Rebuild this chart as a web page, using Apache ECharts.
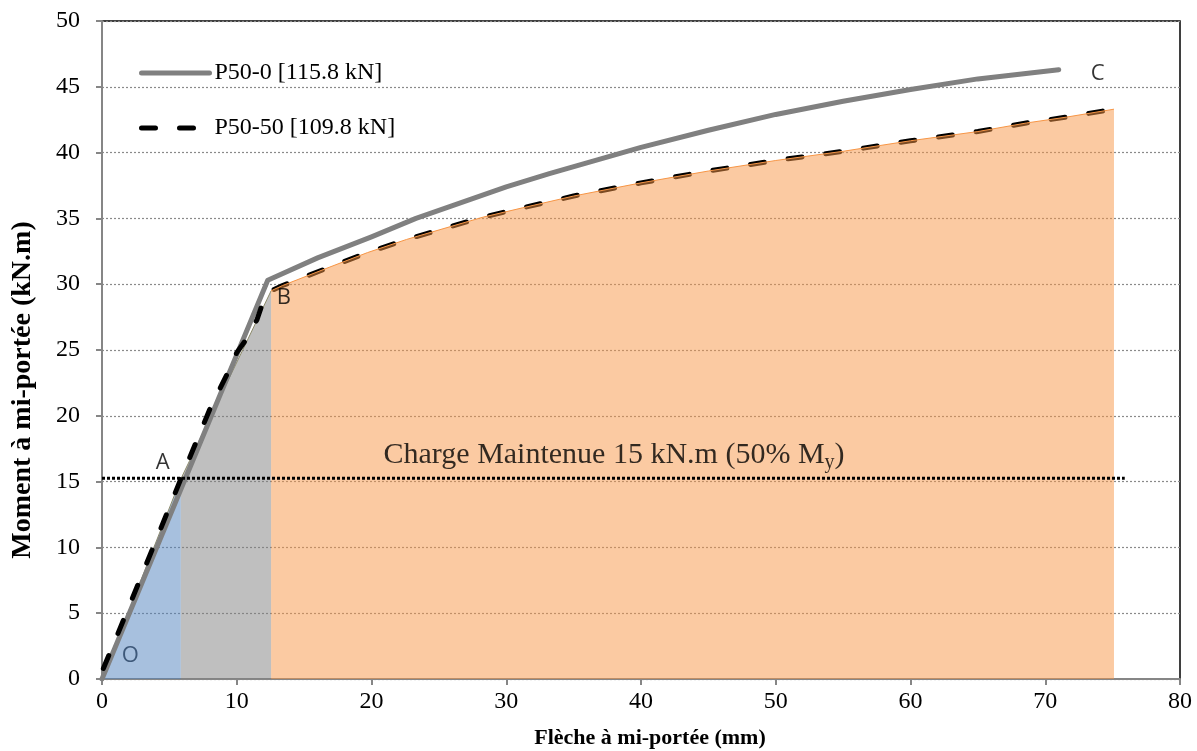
<!DOCTYPE html>
<html><head><meta charset="utf-8">
<script src="https://cdn.jsdelivr.net/npm/echarts@6/dist/echarts.min.js"></script>
<style>html,body{margin:0;padding:0;background:#fff}#c{width:1197px;height:751px}</style>
</head><body><div id="c"></div>
<script>
// Data (x: deflection mm, y: moment kN.m)
const p50_0 = [[0,0],[12.3,30.3],[16,32.0],[20,33.6],[23.3,35.0],[30,37.4],[33.2,38.4],[40,40.4],[45,41.7],[50,42.9],[55,43.9],[60,44.8],[65,45.6],[71,46.3]];
const p50_50 = [[0.1,0.8],[1,3.0],[3,8.0],[5.85,15.2],[8,20.5],[9.3,23.2],[10,24.8],[10.7,25.8],[11.5,27.3],[12.1,29.1],[12.55,29.5],[13.4,29.9],[16.9,31.3],[19.7,32.4],[22.6,33.4],[25.6,34.3],[28.3,35.1],[31.2,35.8],[35,36.7],[40,37.7],[45,38.6],[50,39.4],[55,40.1],[60,40.9],[65,41.6],[68.6,42.25],[71.6,42.7],[75.1,43.3]];
const zoneOA = [[0,0],[5.85,15.2]];
const zoneAB = [[5.85,15.2],[12.55,29.5]];
const zoneBC = p50_50.filter(p => p[0] >= 12.55);
const sustained = [[0,15.25],[75.9,15.25]];
const pointLabels = [[2.1,1.8,'O'],[4.5,16.4,'A'],[13.5,29.0,'B'],[73.9,46.0,'C']];
const noteText = [[38.0,17.0]];
const names = ['P50-0 [115.8 kN]','P50-50 [109.8 kN]'];
const xTitle = 'Flèche à mi-portée (mm)';
const yTitle = 'Moment à mi-portée (kN.m)';

const serif = 'Liberation Serif';
const chart = echarts.init(document.getElementById('c'), null, {renderer:'canvas'});
chart.setOption({
  animation:false,
  backgroundColor:'#fff',
  grid:{left:102,right:17,top:21,bottom:72,show:true,borderColor:'#000',borderWidth:1.5,backgroundColor:'transparent'},
  legend:{
    data:names, orient:'vertical', left:134, top:56, itemWidth:68, itemHeight:14, itemGap:31,
    itemStyle:{opacity:0}, lineStyle:{width:5},
    textStyle:{fontFamily:serif,fontSize:24,color:'#000'}
  },
  graphic:[
    {type:'text',x:650,y:738,silent:true,style:{text:xTitle,align:'center',verticalAlign:'middle',
      fontFamily:serif,fontSize:22,fontWeight:'bold',fill:'#000'}},
    {type:'text',x:23,y:390,rotation:Math.PI/2,silent:true,style:{text:yTitle,align:'center',verticalAlign:'middle',
      fontFamily:serif,fontSize:28,fontWeight:'bold',fill:'#000'}}
  ],
  xAxis:{type:'value',min:0,max:80,interval:10,
    axisLine:{lineStyle:{color:'#868686',width:2}},
    axisTick:{show:true,length:6,lineStyle:{color:'#868686',width:2}},
    axisLabel:{fontFamily:serif,fontSize:24,color:'#000',margin:11},
    splitLine:{show:false}},
  yAxis:{type:'value',min:0,max:50,interval:5,
    axisLine:{show:true,lineStyle:{color:'#868686',width:2}},
    axisTick:{show:true,length:6,lineStyle:{color:'#868686',width:2}},
    axisLabel:{fontFamily:serif,fontSize:24,color:'#000',margin:22},
    splitLine:{show:true,lineStyle:{color:'#8a8a8a',width:1.2,type:[2,2]}}},
  series:[
    {type:'line',data:zoneOA,symbol:'none',z:1,silent:true,
     lineStyle:{color:'#8c8a6a',width:1},areaStyle:{color:'rgba(79,129,189,0.5)',opacity:1}},
    {type:'line',data:zoneAB,symbol:'none',z:1,silent:true,
     lineStyle:{color:'#8c8a6a',width:1},areaStyle:{color:'rgba(128,128,128,0.5)',opacity:1}},
    {name:names[0],type:'line',data:p50_0,symbol:'none',z:3,
     lineStyle:{color:'#808080',width:5,cap:'round',join:'round'},itemStyle:{color:'#808080'}},
    {name:names[1],type:'line',data:p50_50,symbol:'none',z:3,
     lineStyle:{color:'#000',width:5,type:[14,24],cap:'round'},itemStyle:{color:'#000'}},
    {type:'line',data:zoneBC,symbol:'none',z:4,silent:true,
     lineStyle:{color:'#f79646',width:1},areaStyle:{color:'rgba(247,150,70,0.5)',opacity:1}},
    {type:'line',data:sustained,symbol:'none',z:5,silent:true,
     lineStyle:{color:'#000',width:3,type:[3,2]}},
    {type:'scatter',data:pointLabels,symbolSize:0,z:6,silent:true,
     label:{show:true,position:'inside',
       formatter:p=>p.data[2]==='O'?'{o|O}':'{k|'+p.data[2]+'}',
       rich:{o:{color:'#243f60',fontFamily:'Open Sans',fontSize:22},k:{color:'#000',fontFamily:'Open Sans',fontSize:22}}}},
    {type:'scatter',data:noteText,symbolSize:0,z:6,silent:true,
     label:{show:true,position:'inside',
       formatter:'{t|Charge Maintenue 15 kN.m (50% M}{s|y}{t|)}',
       rich:{t:{fontFamily:serif,fontSize:30,color:'#000'},s:{fontFamily:serif,fontSize:20,color:'#000',padding:[14,0,0,0]}}}}
  ]
});
</script></body></html>
